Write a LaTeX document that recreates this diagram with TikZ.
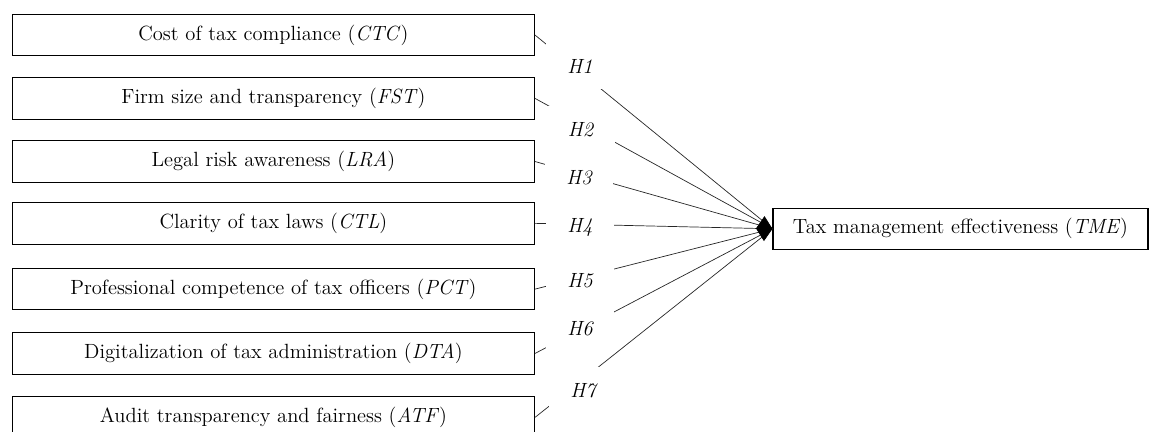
\documentclass[tikz,border=0pt]{standalone}
\usetikzlibrary{arrows.meta}
\begin{document}
\begin{tikzpicture}
            \tikzstyle{every node}=[font=\fontsize{11.7}{14}\selectfont, text=black]
            \tikzstyle{factor}=[draw=black, line width=0.6pt, minimum width=10.44cm, minimum height=0.83cm, inner sep=0pt]
            \tikzstyle{hyp}=[fill=white, minimum width=1.36cm, minimum height=0.94cm, inner sep=0pt, font=\fontsize{11.7}{14}\selectfont\itshape]
            \tikzstyle{link}=[black!85, line width=0.4pt]

            \useasboundingbox (0,0) rectangle (23,-8.64);

            \node[factor] (ctc) at (5.468,-0.700) {Cost of tax compliance (\textit{CTC})};
            \node[factor] (fst) at (5.468,-1.967) {Firm size and transparency (\textit{FST})};
            \node[factor] (lra) at (5.468,-3.230) {Legal risk awareness (\textit{LRA})};
            \node[factor] (ctl) at (5.468,-4.467) {Clarity of tax laws (\textit{CTL})};
            \node[factor] (pct) at (5.468,-5.783) {Professional competence of tax officers (\textit{PCT})};
            \node[factor] (dta) at (5.468,-7.070) {Digitalization of tax administration (\textit{DTA})};
            \node[factor] (atf) at (5.468,-8.349) {Audit transparency and fairness (\textit{ATF})};
            \node[factor, minimum width=7.5cm, minimum height=0.82cm] (tme) at (19.21,-4.576) {Tax management effectiveness (\textit{TME})};

            \draw[link] (ctc.east) -- (tme.west);
            \draw[link] (fst.east) -- (tme.west);
            \draw[link] (lra.east) -- (tme.west);
            \draw[link] (pct.east) -- (tme.west);
            \draw[link] (dta.east) -- (tme.west);
            \draw[link] (atf.east) -- (tme.west);
            \draw[link, -{Diamond[length=0.33cm, width=0.5cm, color=black]}] (ctl.east) -- (tme.west);

            \node[hyp] (h1) at (11.60,-1.32) {H1};
            \node[hyp] (h2) at (11.61,-2.59) {H2};
            \node[hyp] (h3) at (11.58,-3.55) {H3};
            \node[hyp] (h4) at (11.60,-4.55) {H4};
            \node[hyp] (h5) at (11.60,-5.616) {H5};
            \node[hyp] (h6) at (11.60,-6.58) {H6};
            \node[hyp] (h7) at (11.66,-7.82) {H7};
        \end{tikzpicture}
\end{document}
